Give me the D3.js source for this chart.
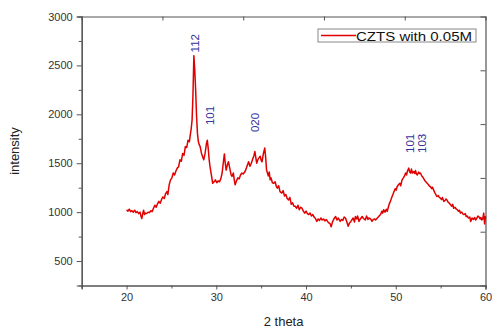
<!DOCTYPE html>
<html><head><meta charset="utf-8">
<script src="https://cdn.jsdelivr.net/npm/d3@7"></script>
<style>body{margin:0;background:#fff}svg{display:block;font-family:"Liberation Sans",Arial,sans-serif}</style>
</head><body><svg id="c" width="492" height="329"></svg>
<script>
const twoTheta = [20.0,20.15,20.3,20.45,20.6,20.75,20.9,21.05,21.2,21.35,21.5,21.6,21.7,21.8,21.9,22.0,22.1,22.25,22.4,22.55,22.7,22.85,23.0,23.15,23.3,23.45,23.6,23.75,23.9,24.05,24.2,24.35,24.5,24.6,24.75,24.9,25.05,25.2,25.35,25.5,25.65,25.8,25.95,26.1,26.25,26.4,26.55,26.7,26.85,27.0,27.1,27.2,27.3,27.4,27.5,27.6,27.7,27.8,27.9,28.0,28.1,28.2,28.35,28.5,28.6,28.75,28.9,29.0,29.1,29.2,29.3,29.45,29.6,29.75,29.9,30.05,30.2,30.35,30.5,30.65,30.8,30.9,31.0,31.1,31.25,31.35,31.5,31.65,31.75,31.9,32.0,32.1,32.25,32.4,32.55,32.7,32.85,33.0,33.2,33.35,33.5,33.6,33.75,33.9,34.05,34.2,34.3,34.4,34.5,34.65,34.8,34.9,35.0,35.1,35.25,35.4,35.5,35.6,35.7,35.8,35.9,36.0,36.1,36.25,36.4,36.55,36.7,36.8,36.95,37.1,37.3,37.45,37.6,37.75,37.9,38.05,38.2,38.35,38.5,38.65,38.8,38.95,39.1,39.25,39.4,39.55,39.7,39.85,40.0,40.15,40.3,40.45,40.6,40.75,40.9,41.05,41.2,41.35,41.5,41.65,41.8,41.95,42.1,42.25,42.4,42.55,42.7,42.8,42.95,43.1,43.3,43.45,43.6,43.8,43.95,44.1,44.25,44.4,44.55,44.7,44.85,45.0,45.1,45.25,45.4,45.5,45.65,45.75,45.9,46.05,46.25,46.4,46.6,46.75,46.9,47.0,47.2,47.35,47.5,47.65,47.75,47.9,48.05,48.2,48.3,48.45,48.55,48.65,48.8,48.95,49.05,49.2,49.3,49.4,49.55,49.7,49.8,49.95,50.05,50.15,50.3,50.45,50.55,50.7,50.85,50.95,51.1,51.2,51.3,51.45,51.55,51.65,51.75,51.85,52.0,52.1,52.2,52.3,52.4,52.55,52.65,52.75,52.9,53.0,53.1,53.25,53.4,53.5,53.65,53.75,53.85,54.0,54.1,54.2,54.35,54.5,54.6,54.75,54.85,54.95,55.1,55.2,55.35,55.5,55.6,55.7,55.85,56.0,56.1,56.25,56.35,56.45,56.6,56.75,56.85,57.0,57.1,57.2,57.35,57.5,57.6,57.75,57.85,57.95,58.1,58.25,58.35,58.45,58.5,58.65,58.8,58.9,59.05,59.15,59.25,59.4,59.5,59.6,59.7,59.8,59.9,60.0];
const intensity = [1025,1010,1030,1005,1015,1000,1020,995,1005,985,1000,960,935,985,1020,975,990,985,1000,995,1015,1005,1040,1070,1050,1085,1110,1090,1130,1155,1140,1190,1210,1180,1280,1330,1350,1400,1380,1420,1450,1465,1535,1520,1600,1580,1670,1660,1735,1720,1790,1850,1940,2200,2600,2450,2245,1980,1805,1720,1690,1670,1600,1560,1535,1600,1700,1735,1650,1540,1465,1380,1295,1310,1330,1300,1320,1310,1340,1400,1520,1595,1500,1430,1490,1515,1450,1380,1365,1400,1330,1280,1320,1350,1340,1380,1400,1390,1415,1450,1490,1515,1470,1500,1540,1580,1620,1560,1500,1540,1560,1570,1530,1515,1600,1655,1560,1430,1400,1370,1410,1330,1350,1300,1295,1310,1260,1245,1270,1210,1195,1220,1165,1180,1140,1125,1150,1080,1095,1060,1060,1040,1070,1025,1050,1040,1010,990,1010,985,975,990,960,975,950,935,905,930,915,940,920,930,910,925,905,890,880,850,900,930,955,920,940,905,925,915,950,940,900,855,890,905,920,940,900,955,930,960,905,930,955,935,920,960,925,940,930,905,925,930,920,935,950,965,975,1010,990,1025,1000,1030,1008,1060,1090,1110,1150,1185,1210,1240,1225,1260,1280,1295,1270,1330,1350,1365,1400,1380,1420,1450,1410,1400,1440,1400,1415,1395,1425,1390,1380,1410,1395,1400,1370,1360,1345,1320,1305,1295,1280,1265,1262,1240,1255,1230,1200,1175,1160,1170,1150,1145,1130,1150,1110,1120,1135,1125,1100,1090,1075,1060,1080,1040,1050,1030,1025,1010,1020,990,1000,980,975,985,955,960,940,950,905,930,940,925,945,920,940,960,955,930,945,920,935,990,880,960];
const xTicks = [20,30,40,50,60];
const yTicks = [500,1000,1500,2000,2500,3000];
const peakLabels = ["112","101","020","101","103"];
const peakX = [27.62,29.35,34.35,51.55,52.95];
const peakY = [2633,1890,1819,1605,1605];
const seriesName = "CZTS with 0.05M";

const svg = d3.select("#c");
const L=81.7, R=485.5, T=16.5, B=285.5;
const x = d3.scaleLinear().domain([15,60]).range([L,R]);
const y = d3.scaleLinear().domain([250,3000]).range([B,T]);
const axisCol = "#555";

svg.append("g").attr("transform",`translate(0,${B})`)
  .call(d3.axisBottom(x).tickValues(xTicks).tickSize(4).tickPadding(4).tickFormat(d3.format("d")));
svg.append("g").attr("transform",`translate(0,${B})`)
  .call(d3.axisBottom(x).tickValues([15,25,35,45,55]).tickSize(3).tickFormat(""));
svg.append("g").attr("transform",`translate(${L},0)`)
  .call(d3.axisLeft(y).tickValues(yTicks).tickSize(5).tickPadding(4).tickFormat(d3.format("d")));
svg.append("g").attr("transform",`translate(${L},0)`)
  .call(d3.axisLeft(y).tickValues([750,1250,1750,2250,2750]).tickSize(3).tickFormat(""));
const xt = d3.scaleLinear().domain([0,5]).range([L,R]);
svg.append("g").attr("transform",`translate(0,${T})`)
  .call(d3.axisBottom(xt).tickValues([1,2,3,4]).tickSize(4).tickFormat(""));
const yr = d3.scaleLinear().domain([0,5]).range([B,T]);
svg.append("g").attr("transform",`translate(${R},0)`)
  .call(d3.axisLeft(yr).tickValues([1,2,3,4]).tickSize(5).tickFormat(""));

svg.selectAll(".domain").attr("stroke",axisCol).attr("stroke-width",1.2);
svg.selectAll(".tick line").attr("stroke",axisCol);
svg.selectAll(".tick text").attr("fill","#333").style("font-size","11px").style("font-family","Liberation Sans, Arial, sans-serif");

const data = twoTheta.map((d,i)=>[d,intensity[i]]);
svg.append("path").datum(data)
  .attr("d", d3.line().x(d=>x(d[0])).y(d=>y(d[1])))
  .attr("fill","none").attr("stroke","#e00000").attr("stroke-width",1.5).attr("stroke-linejoin","round");

peakLabels.forEach((t,i)=>{
  svg.append("text")
    .attr("transform",`translate(${x(peakX[i])},${y(peakY[i])}) rotate(-90)`)
    .attr("dy","0.35em").attr("fill","#33339a").style("font-size","11.5px").text(t);
});

svg.append("text").attr("transform",`translate(19,${(T+B)/2}) rotate(-90)`)
  .attr("text-anchor","middle").attr("fill","#222").style("font-size","13px").text("intensity");
svg.append("text").attr("x",(L+R)/2).attr("y",326)
  .attr("text-anchor","middle").attr("fill","#222").style("font-size","13px").text("2 theta");

const lg = svg.append("g").attr("transform","translate(318,29)");
lg.append("rect").attr("width",158).attr("height",13).attr("fill","#fff").attr("stroke","#888");
lg.append("line").attr("x1",3).attr("x2",38).attr("y1",6.5).attr("y2",6.5).attr("stroke","#e00000").attr("stroke-width",1.3);
lg.append("text").attr("x",38).attr("y",11.5).attr("fill","#111").style("font-size","13px")
  .attr("textLength",116).attr("lengthAdjust","spacingAndGlyphs").text(seriesName);
</script></body></html>
